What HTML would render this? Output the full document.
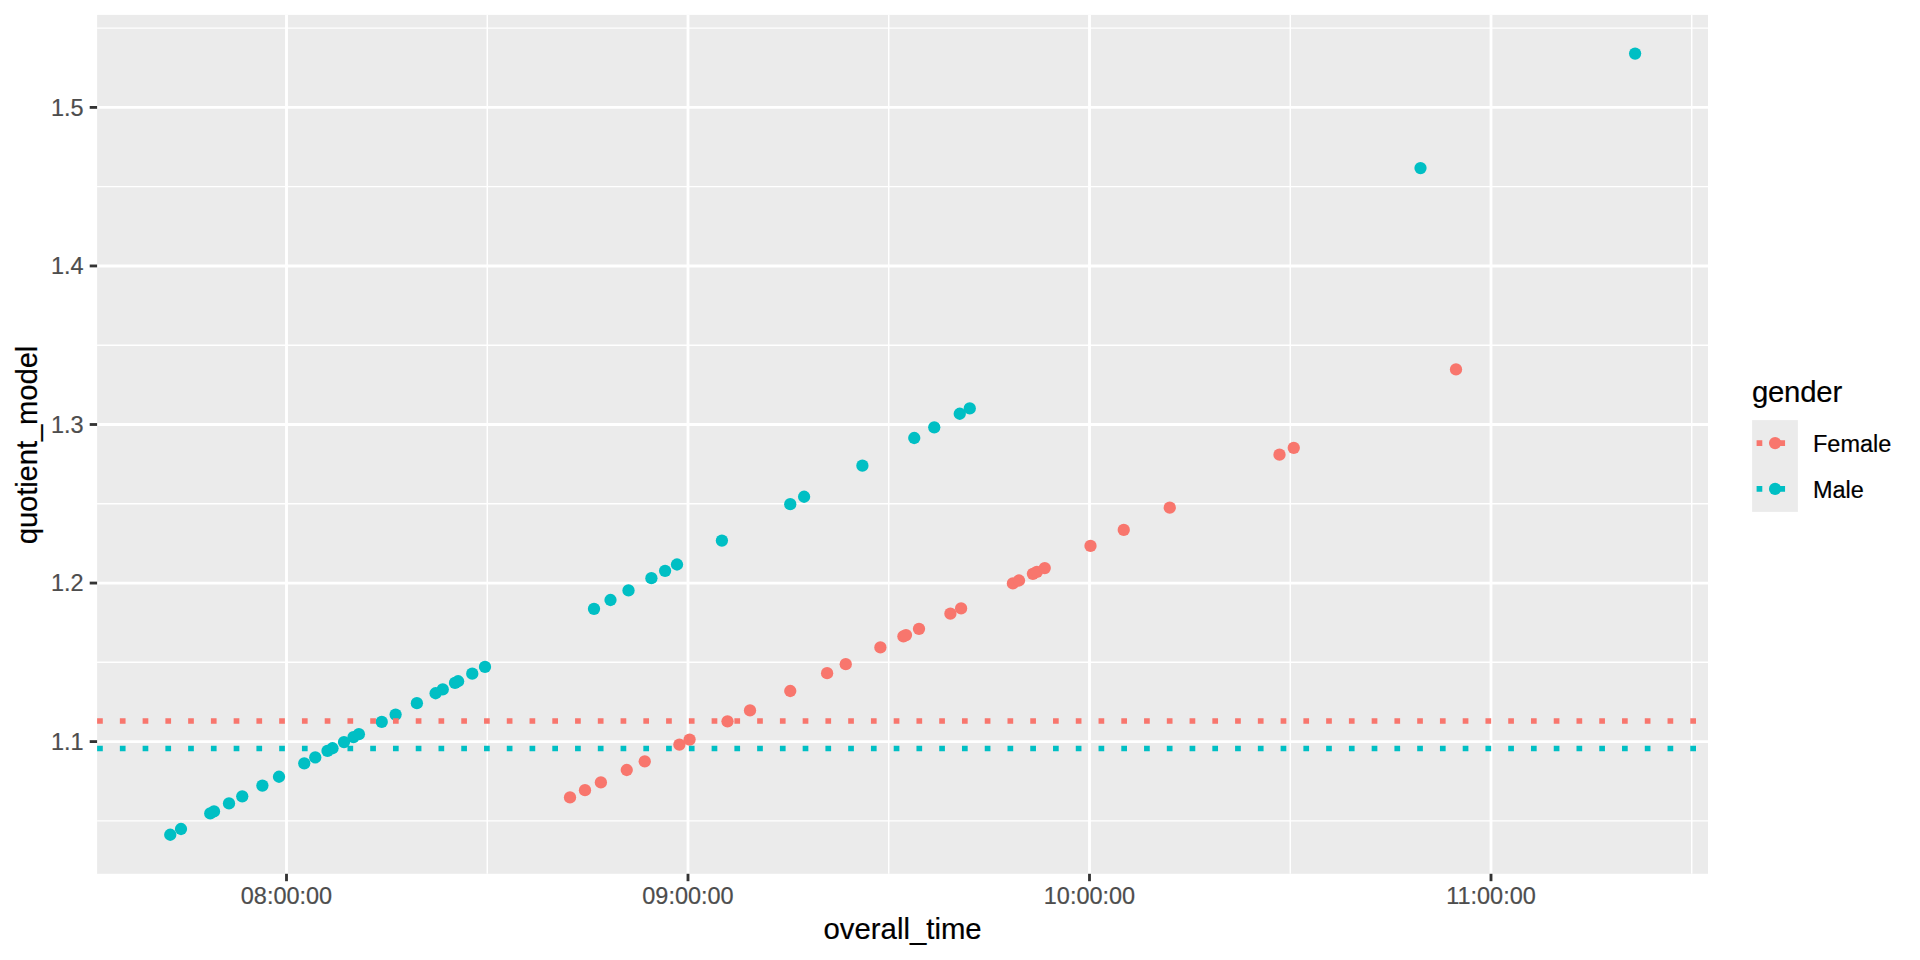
<!DOCTYPE html>
<html lang="en"><head><meta charset="utf-8"><title>quotient_model vs overall_time</title>
<style>html,body{margin:0;padding:0;background:#fff;overflow:hidden}svg{display:block}text{font-family:"Liberation Sans",Arial,Helvetica,sans-serif}.at{font-size:23.47px;fill:#4d4d4d;stroke:#4d4d4d;stroke-width:.2px}.ti{font-size:29.33px;fill:#000;stroke:#000;stroke-width:.2px}.lg{font-size:23.47px;fill:#000;stroke:#000;stroke-width:.2px}.yt{letter-spacing:-.15px}</style></head><body>
<svg width="1920" height="960" viewBox="0 0 1920 960">
<rect width="1920" height="960" fill="#fff"/>
<rect x="97.1" y="14.9" width="1610.90" height="858.90" fill="#ebebeb"/>
<g stroke="#fff" stroke-width="1.43" fill="none">
<line x1="97.1" x2="1708.0" y1="28.10" y2="28.10"/>
<line x1="97.1" x2="1708.0" y1="186.65" y2="186.65"/>
<line x1="97.1" x2="1708.0" y1="345.20" y2="345.20"/>
<line x1="97.1" x2="1708.0" y1="503.75" y2="503.75"/>
<line x1="97.1" x2="1708.0" y1="662.30" y2="662.30"/>
<line x1="97.1" x2="1708.0" y1="820.85" y2="820.85"/>
<line y1="14.9" y2="873.8" x1="487.25" x2="487.25"/>
<line y1="14.9" y2="873.8" x1="888.75" x2="888.75"/>
<line y1="14.9" y2="873.8" x1="1290.25" x2="1290.25"/>
<line y1="14.9" y2="873.8" x1="1691.75" x2="1691.75"/>
</g>
<g stroke="#fff" stroke-width="2.85" fill="none">
<line x1="97.1" x2="1708.0" y1="107.40" y2="107.40"/>
<line x1="97.1" x2="1708.0" y1="265.95" y2="265.95"/>
<line x1="97.1" x2="1708.0" y1="424.50" y2="424.50"/>
<line x1="97.1" x2="1708.0" y1="583.05" y2="583.05"/>
<line x1="97.1" x2="1708.0" y1="741.60" y2="741.60"/>
<line y1="14.9" y2="873.8" x1="286.50" x2="286.50"/>
<line y1="14.9" y2="873.8" x1="688.00" x2="688.00"/>
<line y1="14.9" y2="873.8" x1="1089.50" x2="1089.50"/>
<line y1="14.9" y2="873.8" x1="1491.00" x2="1491.00"/>
</g>
<g fill="#f8766d">
<circle cx="570.00" cy="797.40" r="6.15"/>
<circle cx="585.00" cy="790.15" r="6.15"/>
<circle cx="600.90" cy="782.47" r="6.15"/>
<circle cx="626.75" cy="769.99" r="6.15"/>
<circle cx="644.75" cy="761.29" r="6.15"/>
<circle cx="679.40" cy="744.55" r="6.15"/>
<circle cx="689.60" cy="739.62" r="6.15"/>
<circle cx="727.50" cy="721.32" r="6.15"/>
<circle cx="750.00" cy="710.45" r="6.15"/>
<circle cx="790.25" cy="691.00" r="6.15"/>
<circle cx="827.10" cy="673.20" r="6.15"/>
<circle cx="845.75" cy="664.19" r="6.15"/>
<circle cx="880.40" cy="647.46" r="6.15"/>
<circle cx="903.40" cy="636.34" r="6.15"/>
<circle cx="906.00" cy="635.09" r="6.15"/>
<circle cx="919.00" cy="628.81" r="6.15"/>
<circle cx="950.40" cy="613.64" r="6.15"/>
<circle cx="961.10" cy="608.47" r="6.15"/>
<circle cx="1012.90" cy="583.45" r="6.15"/>
<circle cx="1019.00" cy="580.50" r="6.15"/>
<circle cx="1032.90" cy="573.79" r="6.15"/>
<circle cx="1036.90" cy="571.85" r="6.15"/>
<circle cx="1044.75" cy="568.06" r="6.15"/>
<circle cx="1090.50" cy="545.96" r="6.15"/>
<circle cx="1123.75" cy="529.90" r="6.15"/>
<circle cx="1169.75" cy="507.68" r="6.15"/>
<circle cx="1279.50" cy="454.66" r="6.15"/>
<circle cx="1293.75" cy="447.78" r="6.15"/>
<circle cx="1456.00" cy="369.40" r="6.15"/>
</g>
<g fill="#00bfc4">
<circle cx="170.25" cy="834.75" r="6.15"/>
<circle cx="181.00" cy="829.02" r="6.15"/>
<circle cx="210.25" cy="813.42" r="6.15"/>
<circle cx="214.00" cy="811.42" r="6.15"/>
<circle cx="229.00" cy="803.42" r="6.15"/>
<circle cx="242.25" cy="796.36" r="6.15"/>
<circle cx="262.40" cy="785.61" r="6.15"/>
<circle cx="279.00" cy="776.76" r="6.15"/>
<circle cx="304.25" cy="763.29" r="6.15"/>
<circle cx="315.25" cy="757.43" r="6.15"/>
<circle cx="327.50" cy="750.89" r="6.15"/>
<circle cx="332.50" cy="748.23" r="6.15"/>
<circle cx="344.00" cy="742.10" r="6.15"/>
<circle cx="353.50" cy="737.03" r="6.15"/>
<circle cx="358.90" cy="734.15" r="6.15"/>
<circle cx="381.75" cy="721.97" r="6.15"/>
<circle cx="395.60" cy="714.58" r="6.15"/>
<circle cx="416.90" cy="703.22" r="6.15"/>
<circle cx="435.60" cy="693.25" r="6.15"/>
<circle cx="442.75" cy="689.44" r="6.15"/>
<circle cx="455.00" cy="682.90" r="6.15"/>
<circle cx="458.10" cy="681.25" r="6.15"/>
<circle cx="472.25" cy="673.71" r="6.15"/>
<circle cx="485.00" cy="666.91" r="6.15"/>
<circle cx="594.00" cy="608.78" r="6.15"/>
<circle cx="610.50" cy="599.98" r="6.15"/>
<circle cx="628.50" cy="590.38" r="6.15"/>
<circle cx="651.40" cy="578.17" r="6.15"/>
<circle cx="665.10" cy="570.87" r="6.15"/>
<circle cx="677.00" cy="564.52" r="6.15"/>
<circle cx="721.90" cy="540.58" r="6.15"/>
<circle cx="790.25" cy="504.13" r="6.15"/>
<circle cx="804.10" cy="496.74" r="6.15"/>
<circle cx="862.40" cy="465.65" r="6.15"/>
<circle cx="914.25" cy="438.00" r="6.15"/>
<circle cx="934.25" cy="427.34" r="6.15"/>
<circle cx="959.75" cy="413.74" r="6.15"/>
<circle cx="969.75" cy="408.41" r="6.15"/>
<circle cx="1420.50" cy="168.04" r="6.15"/>
<circle cx="1635.10" cy="53.60" r="6.15"/>
</g>
<g fill="none" stroke-width="5.7" stroke-dasharray="5.7 17.06">
<line x1="97.1" x2="1708.0" y1="721" y2="721" stroke="#f8766d"/>
<line x1="97.1" x2="1708.0" y1="748.5" y2="748.5" stroke="#00bfc4"/>
</g>
<g stroke="#333" stroke-width="2.85" fill="none">
<line x1="89.70" x2="97.1" y1="107.40" y2="107.40"/>
<line x1="89.70" x2="97.1" y1="265.95" y2="265.95"/>
<line x1="89.70" x2="97.1" y1="424.50" y2="424.50"/>
<line x1="89.70" x2="97.1" y1="583.05" y2="583.05"/>
<line x1="89.70" x2="97.1" y1="741.60" y2="741.60"/>
<line y1="873.8" y2="881.20" x1="286.50" x2="286.50"/>
<line y1="873.8" y2="881.20" x1="688.00" x2="688.00"/>
<line y1="873.8" y2="881.20" x1="1089.50" x2="1089.50"/>
<line y1="873.8" y2="881.20" x1="1491.00" x2="1491.00"/>
</g>
<g class="at" text-anchor="end">
<text x="83.6" y="115.75">1.5</text>
<text x="83.6" y="274.30">1.4</text>
<text x="83.6" y="432.85">1.3</text>
<text x="83.6" y="591.40">1.2</text>
<text x="83.6" y="749.95">1.1</text>
</g>
<g class="at" text-anchor="middle">
<text x="286.50" y="903.7">08:00:00</text>
<text x="688.00" y="903.7">09:00:00</text>
<text x="1089.50" y="903.7">10:00:00</text>
<text x="1491.00" y="903.7">11:00:00</text>
</g>
<text class="ti" text-anchor="middle" x="902.6" y="938.7">overall_time</text>
<text class="ti yt" text-anchor="middle" transform="translate(37.1 445.0) rotate(-90)">quotient_model</text>
<text class="ti" style="letter-spacing:-.2px" x="1751.9" y="401.6">gender</text>
<rect x="1752.1" y="420.1" width="45.8" height="91.8" fill="#ebebeb"/>
<circle cx="1775.1" cy="443.05" r="6.15" fill="#f8766d"/>
<line x1="1756.6" x2="1793.4" y1="443.05" y2="443.05" stroke="#f8766d" stroke-width="5.7" stroke-dasharray="5.7 17.06"/>
<text class="lg" x="1813.0" y="451.65">Female</text>
<circle cx="1775.1" cy="488.95" r="6.15" fill="#00bfc4"/>
<line x1="1756.6" x2="1793.4" y1="488.95" y2="488.95" stroke="#00bfc4" stroke-width="5.7" stroke-dasharray="5.7 17.06"/>
<text class="lg" x="1813.0" y="497.55">Male</text>
</svg></body></html>
